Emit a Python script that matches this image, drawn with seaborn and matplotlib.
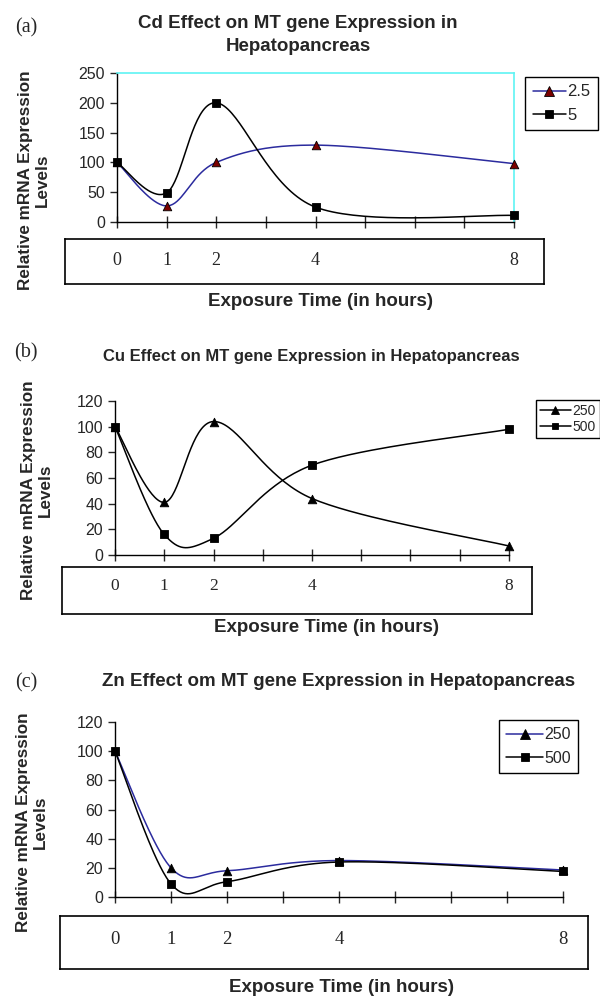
import numpy as np
import matplotlib
matplotlib.use('Agg')
import matplotlib.pyplot as plt
import seaborn as sns
from matplotlib.lines import Line2D

# ==============================================================================
# DATA
# ==============================================================================
hours = [0, 1, 2, 4, 8]

cd_labels = ['2.5', '5']
cd_25 = [100, 27, 100, 129, 98]
cd_5 = [100, 49, 200, 25, 11]

cu_labels = ['250', '500']
cu_250 = [100, 41, 104, 44, 7]
cu_500 = [100, 16, 13, 70, 98]

zn_labels = ['250', '500']
zn_250 = [100, 20, 18, 25, 18.5]
zn_500 = [100, 9, 10.5, 24, 17.5]

W, H = 600, 998
BLUE = '#2b2b9e'
DARKRED = '#7a0000'
CYAN = '#5ff3f3'
SANS = 'Liberation Sans'
SERIF = 'Liberation Serif'


def excel_smooth(xs, ys, n=40):
    # Excel-style smoothed line: cubic bezier with control points at 1/6 of neighbours
    pts = np.column_stack([xs, ys]).astype(float)
    pad = np.vstack([pts[0], pts, pts[-1]])
    out = []
    t = np.linspace(0, 1, n)[:, None]
    for i in range(len(pts) - 1):
        p0, p1, p2, p3 = pad[i], pad[i + 1], pad[i + 2], pad[i + 3]
        c1 = p1 + (p2 - p0) / 6
        c2 = p2 - (p3 - p1) / 6
        seg = (1 - t) ** 3 * p1 + 3 * (1 - t) ** 2 * t * c1 + 3 * (1 - t) * t ** 2 * c2 + t ** 3 * p2
        out.append(seg if i == 0 else seg[1:])
    out = np.vstack(out)
    return out[:, 0], out[:, 1]


def px_rect(x0, y0, x1, y1):
    return [x0 / W, 1 - y1 / H, (x1 - x0) / W, (y1 - y0) / H]


def draw_series(ax, vals, line_color, marker, face):
    sx, sy = excel_smooth(hours, vals)
    sns.lineplot(x=sx, y=sy, sort=False, estimator=None, color=line_color, lw=1.1, ax=ax)
    sns.scatterplot(x=hours, y=vals, marker=marker, s=38, color=face, edgecolor='black',
                    linewidth=0.6, zorder=5, clip_on=False, ax=ax)


def style_axes(ax, ymax, ystep, pad, tsize):
    ax.set_xlim(0, 8)
    ax.set_ylim(0, ymax)
    ax.set_yticks(np.arange(0, ymax + 1, ystep))
    ax.set_xticks(range(9))
    ax.set_xticklabels([str(h) if h in hours else '' for h in range(9)],
                       family=SERIF, fontsize=tsize)
    ax.tick_params(axis='x', direction='inout', length=9, width=1, pad=pad)
    ax.tick_params(axis='y', direction='out', length=5, width=1, labelsize=11.5)
    for s in ['left', 'bottom']:
        ax.spines[s].set_color('black')
        ax.spines[s].set_linewidth(1)
    ax.set_xlabel('')
    ax.set_ylabel('')


def add_box(fig, rect):
    b = fig.add_axes(rect)
    b.set_xticks([])
    b.set_yticks([])
    b.set_facecolor('none')
    for s in b.spines.values():
        s.set_color('black')
        s.set_linewidth(1.2)
    return b


def handle(line_color, marker, face, ms):
    return Line2D([0], [0], color=line_color, lw=1.1, marker=marker, markersize=ms,
                  markerfacecolor=face, markeredgecolor='black', markeredgewidth=0.6)


sns.set_style('ticks')
plt.rcParams['font.family'] = [SANS, 'DejaVu Sans']

fig = plt.figure(figsize=(W / 100, H / 100), dpi=100)

# --- boxes under the x axes (drawn first so they sit beneath) ---
add_box(fig, px_rect(65, 239, 544, 284))
add_box(fig, px_rect(62, 567, 532, 614))
add_box(fig, px_rect(60, 916, 588, 969))

# --- PANEL A: Cd ---
ax_a = fig.add_axes(px_rect(117, 73, 514, 222))
draw_series(ax_a, cd_25, BLUE, '^', DARKRED)
draw_series(ax_a, cd_5, 'black', 's', 'black')
style_axes(ax_a, 250, 50, 17, 13)
ax_a.spines['top'].set_color(CYAN)
ax_a.spines['right'].set_color(CYAN)
ax_a.spines['top'].set_linewidth(1.2)
ax_a.spines['right'].set_linewidth(1.2)
fig.legend([handle(BLUE, '^', DARKRED, 6.5), handle('black', 's', 'black', 5.5)], cd_labels,
           loc='upper left', bbox_to_anchor=(525 / W, 1 - 77 / H), fontsize=12,
           frameon=True, fancybox=False, edgecolor='black', framealpha=1,
           borderaxespad=0, borderpad=0.45, labelspacing=0.5, handlelength=2.0,
           handletextpad=0.1)

# --- PANEL B: Cu ---
ax_b = fig.add_axes(px_rect(115, 401, 509, 555))
draw_series(ax_b, cu_250, 'black', '^', 'black')
draw_series(ax_b, cu_500, 'black', 's', 'black')
style_axes(ax_b, 120, 20, 12, 12.5)
sns.despine(ax=ax_b)
fig.legend([handle('black', '^', 'black', 6), handle('black', 's', 'black', 5)], cu_labels,
           loc='upper left', bbox_to_anchor=(536 / W, 1 - 400 / H), fontsize=10,
           frameon=True, fancybox=False, edgecolor='black', framealpha=1,
           borderaxespad=0, borderpad=0.3, labelspacing=0.1, handlelength=2.2,
           handletextpad=0.1)

# --- PANEL C: Zn ---
ax_c = fig.add_axes(px_rect(115, 722, 563, 897))
draw_series(ax_c, zn_250, BLUE, '^', 'black')
draw_series(ax_c, zn_500, 'black', 's', 'black')
style_axes(ax_c, 120, 20, 20, 13.5)
sns.despine(ax=ax_c)
fig.legend([handle(BLUE, '^', 'black', 6.5), handle('black', 's', 'black', 5.5)], zn_labels,
           loc='upper left', bbox_to_anchor=(499 / W, 1 - 720 / H), fontsize=11.5,
           frameon=True, fancybox=False, edgecolor='black', framealpha=1,
           borderaxespad=0, borderpad=0.45, labelspacing=0.55, handlelength=2.3,
           handletextpad=0.1)

# --- TEXT ---
ylab = 'Relative mRNA Expression\nLevels'
xlab = 'Exposure Time (in hours)'
fig.text(298 / W, 1 - 35 / H, 'Cd Effect on MT gene Expression in\nHepatopancreas',
         ha='center', va='center', fontsize=13.5, fontweight='bold', linespacing=1.45)
fig.text(311 / W, 1 - 357 / H, 'Cu Effect on MT gene Expression in Hepatopancreas',
         ha='center', va='center', fontsize=12, fontweight='bold')
fig.text(339 / W, 1 - 681 / H, 'Zn Effect om MT gene Expression in Hepatopancreas',
         ha='center', va='center', fontsize=13.5, fontweight='bold')

for (lx, ly), (xx, xy), (tx, ty), tag in [((34, 180), (320, 302), (26, 28), '(a)'),
                                           ((37, 490), (327, 628), (26, 353), '(b)'),
                                           ((32, 822), (342, 988), (26, 683), '(c)')]:
    fig.text(lx / W, 1 - ly / H, ylab, rotation=90, ha='center', va='center',
             fontsize=12.3, fontweight='bold', linespacing=1.15)
    fig.text(xx / W, 1 - xy / H, xlab, ha='center', va='center',
             fontsize=13.5, fontweight='bold')
    fig.text(tx / W, 1 - ty / H, tag, ha='center', va='center',
             fontsize=14.5, family=SERIF)

fig.savefig('out.png', dpi=100)
plt.close(fig)
